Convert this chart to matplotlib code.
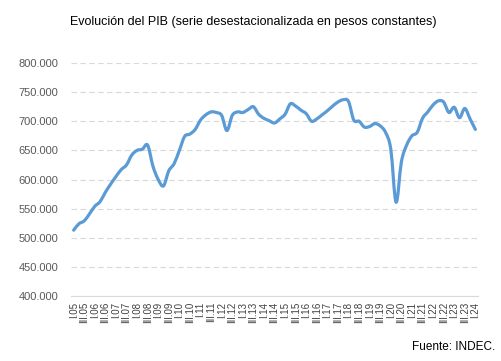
import matplotlib
matplotlib.use("Agg")
import matplotlib.pyplot as plt
from matplotlib.path import Path
from matplotlib.patches import PathPatch
from matplotlib.ticker import FuncFormatter, MultipleLocator

# PIB desestacionalizado, trimestral I.05 .. I.24 (miles)
pib = [
    513, 524, 529, 541, 554, 562, 578, 592, 605, 617,
    625, 642, 650, 652, 659, 623, 600, 589, 615, 627,
    650, 674, 678, 686, 702, 711, 716, 715, 710, 684,
    710, 716, 715, 720, 725, 712, 705, 701, 697, 704,
    712, 730, 726, 719, 713, 700, 704, 711, 718, 726,
    733, 737, 734, 702, 700, 690, 691, 696, 692, 681,
    652, 561, 630, 659, 675, 681, 705, 716, 728, 735,
    733, 715, 724, 706, 722, 704, 686,
]
romanos = ["I", "II", "III", "IV"]
trimestres = [f"{romanos[k % 4]}.{5 + k // 4:02d}" for k in range(len(pib))]

FONT = ["Liberation Sans", "DejaVu Sans"]
plt.rcParams["font.family"] = FONT


def smooth_path(xs, ys):
    # linea suavizada tipo Excel (Catmull-Rom -> Bezier cubica)
    pts = list(zip(xs, ys))
    n = len(pts)
    verts, codes = [pts[0]], [Path.MOVETO]
    for i in range(n - 1):
        p0 = pts[max(i - 1, 0)]
        p1, p2 = pts[i], pts[i + 1]
        p3 = pts[min(i + 2, n - 1)]
        c1 = (p1[0] + (p2[0] - p0[0]) / 6, p1[1] + (p2[1] - p0[1]) / 6)
        c2 = (p2[0] - (p3[0] - p1[0]) / 6, p2[1] - (p3[1] - p1[1]) / 6)
        verts += [c1, c2, p2]
        codes += [Path.CURVE4] * 3
    return Path(verts, codes)


fig = plt.figure(figsize=(5.02, 3.61), dpi=100)
ax = fig.add_axes([71 / 502, 1 - 296 / 361, 407 / 502, 233 / 361])

x = list(range(len(pib)))
ax.add_patch(PathPatch(smooth_path(x, [v * 1000 for v in pib]), fill=False,
                       edgecolor="#5B9BD5", lw=2.3, joinstyle="round",
                       capstyle="round", zorder=3))

ax.set_xlim(-0.5, len(pib) - 0.5)
ax.set_ylim(400000, 800000)
ax.yaxis.set_major_locator(MultipleLocator(50000))
ax.yaxis.set_major_formatter(
    FuncFormatter(lambda v, _: f"{int(v):,}".replace(",", ".")))
ax.grid(True, axis="y", color="#D9D9D9", lw=0.8, ls=(0, (5, 3)))
ax.set_axisbelow(True)

ticks = x[::2]
ax.set_xticks(ticks)
ax.set_xticklabels([trimestres[i] for i in ticks], rotation=90,
                   fontsize=7, color="#404040")
ax.tick_params(axis="x", length=0, pad=4)
ax.tick_params(axis="y", length=0, pad=9, labelsize=8, labelcolor="#595959")

for s in ["top", "right", "left"]:
    ax.spines[s].set_visible(False)
ax.spines["bottom"].set_color("#D9D9D9")
ax.spines["bottom"].set_linewidth(0.8)

fig.text(253 / 502, 1 - 22 / 361,
         "Evolución del PIB (serie desestacionalizada en pesos constantes)",
         ha="center", va="center", fontsize=9, color="#000000")
fig.text(495 / 502, 1 - 347 / 361, "Fuente: INDEC.", ha="right",
         va="center", fontsize=8.5, color="#000000")

fig.savefig("out.png", dpi=100)
